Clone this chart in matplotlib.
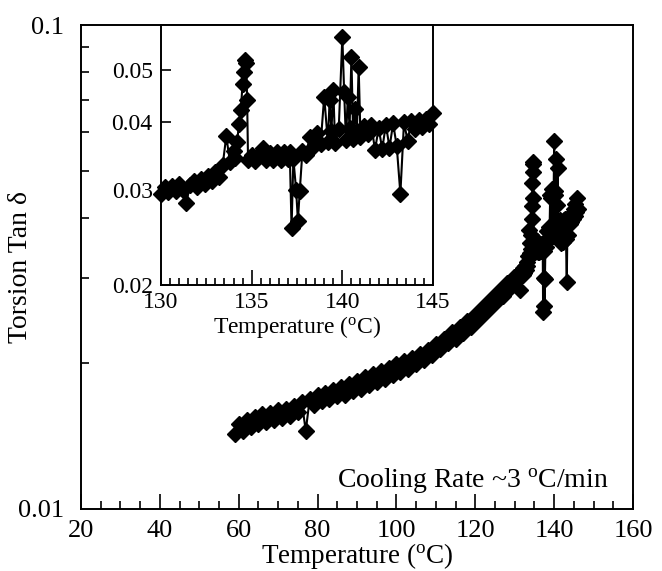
import numpy as np
import matplotlib
matplotlib.use("Agg")
import matplotlib.pyplot as plt
from matplotlib.ticker import MultipleLocator, FixedLocator, FixedFormatter, NullFormatter, LogLocator, NullLocator

plt.rcParams['font.family'] = ['Liberation Serif', 'DejaVu Serif']
plt.rcParams['mathtext.fontset'] = 'custom'
plt.rcParams['mathtext.rm'] = 'Liberation Serif'

# 59-129 C, read every 1 C off the main panel (band edges alternated)
temp_low = list(range(59, 130))
tand_low = [0.0143, 0.0150, 0.0145, 0.0153, 0.0148, 0.0155, 0.0150, 0.0157, 0.0151, 0.0158,
            0.0153, 0.0160, 0.0154, 0.0161, 0.0156, 0.0163, 0.0159, 0.0166, 0.0145, 0.0169,
            0.0164, 0.0172, 0.0167, 0.0174, 0.0169, 0.0176, 0.0171, 0.0179, 0.0172, 0.0181,
            0.0175, 0.0184, 0.0177, 0.0187, 0.0180, 0.0190, 0.0183, 0.0193, 0.0186, 0.0196,
            0.0189, 0.0199, 0.0192, 0.0202, 0.0195, 0.0205, 0.0199, 0.0209, 0.0203, 0.0213,
            0.0208, 0.0219, 0.0214, 0.0225, 0.0220, 0.0232, 0.0225, 0.0238, 0.0231, 0.0245,
            0.0238, 0.0252, 0.0247, 0.0261, 0.0256, 0.0271, 0.0266, 0.0282, 0.0275, 0.0293,
            0.0287]

# 129.6-146 C
temp_high = [129.6, 129.8, 130.0, 130.2, 130.4, 130.6, 130.8, 131.0, 131.2, 131.4,
             131.6, 131.8, 132.0, 132.2, 132.4, 132.6, 132.8, 133.0, 133.2, 133.4,
             133.6, 133.8, 134.0, 134.1, 134.2, 134.3, 134.4, 134.5, 134.6, 134.65,
             134.7, 134.75, 134.8, 135.0, 135.2, 135.4, 135.6, 135.8, 136.0, 136.2,
             136.4, 136.6, 136.8, 137.0, 137.1, 137.2, 137.3, 137.45, 137.55, 137.65,
             137.8, 138.0, 138.2, 138.4, 138.6, 138.8, 139.0, 139.2, 139.3, 139.4,
             139.5, 139.6, 139.8, 140.0, 140.1, 140.2, 140.3, 140.4, 140.5, 140.6,
             140.7, 140.8, 140.9, 141.0, 141.2, 141.4, 141.6, 141.8, 142.0, 142.2,
             142.4, 142.6, 142.8, 143.0, 143.2, 143.4, 143.6, 143.8, 144.0, 144.2,
             144.4, 144.6, 144.8, 145.0, 145.2, 145.4, 145.6, 145.8, 146.0]
tand_high = [0.0293, 0.0301, 0.0295, 0.0303, 0.0297, 0.0305, 0.0299, 0.0307, 0.0300, 0.0284,
             0.0306, 0.0311, 0.0304, 0.0314, 0.0308, 0.0318, 0.0312, 0.0324, 0.0317, 0.0333,
             0.0377, 0.0338, 0.0354, 0.0344, 0.0368, 0.0397, 0.0422, 0.0471, 0.0496, 0.0522,
             0.0515, 0.0440, 0.0340, 0.0348, 0.0339, 0.0350, 0.0358, 0.0340, 0.0351, 0.0340,
             0.0352, 0.0341, 0.0353, 0.0342, 0.0352, 0.0255, 0.0342, 0.0300, 0.0263, 0.0298,
             0.0354, 0.0348, 0.0376, 0.0360, 0.0382, 0.0364, 0.0446, 0.0368, 0.0440, 0.0386,
             0.0459, 0.0366, 0.0388, 0.0575, 0.0455, 0.0370, 0.0446, 0.0391, 0.0528, 0.0372,
             0.0424, 0.0383, 0.0506, 0.0375, 0.0393, 0.0380, 0.0396, 0.0355, 0.0390, 0.0357,
             0.0396, 0.0359, 0.0398, 0.0361, 0.0295, 0.0400, 0.0369, 0.0402, 0.0388, 0.0404,
             0.0392, 0.0406, 0.0397, 0.0416, 0.0403, 0.0426, 0.0411, 0.0440, 0.0416]

temp = np.array(temp_low + temp_high, dtype=float)
tand = np.array(tand_low + tand_high)

x_ticks = [20, 40, 60, 80, 100, 120, 140, 160]
inset_x_ticks = [130, 135, 140, 145]
inset_y_ticks = [0.02, 0.03, 0.04, 0.05]
inset_y_labels = ['0.02', '0.03', '0.04', '0.05']

fig = plt.figure(figsize=(6.62, 5.71), dpi=100)
ax = fig.add_axes([0.1224, 0.1086, 0.8338, 0.8476])
ax.plot(temp, tand, '-D', color='black', ms=8.5, lw=1.5)
ax.set_yscale('log')
ax.set_xlim(20, 160)
ax.set_ylim(0.01, 0.1)
ax.xaxis.set_major_locator(FixedLocator(x_ticks))
ax.xaxis.set_minor_locator(MultipleLocator(5))
ax.yaxis.set_major_locator(FixedLocator([0.01, 0.1]))
ax.yaxis.set_major_formatter(FixedFormatter(['0.01', '0.1']))
ax.yaxis.set_minor_locator(LogLocator(base=10, subs=np.arange(2, 10)))
ax.yaxis.set_minor_formatter(NullFormatter())
ax.tick_params(which='both', direction='in', top=False, right=False, width=1.2, labelsize=19)
ax.tick_params(axis='x', which='major', length=11, pad=8)
ax.tick_params(axis='x', which='minor', length=5.5)
ax.tick_params(axis='y', which='major', length=0, pad=12)
ax.tick_params(axis='y', which='minor', length=6)
for s in ax.spines.values():
    s.set_linewidth(1.4)
ax.set_xlabel('Temperature ($\\mathregular{^o}$C)', fontsize=19.5, labelpad=-1)
ax.set_ylabel('Torsion Tan δ', fontsize=20)
ax.yaxis.set_label_coords(-0.087, 0.5)
ax.text(0.955, 0.045, 'Cooling Rate ~3 $\\mathregular{^o}$C/min', transform=ax.transAxes,
        ha='right', va='baseline', fontsize=20)

# inset
ins = fig.add_axes([0.2432, 0.5009, 0.4109, 0.4553], zorder=5)
ins.set_facecolor('white')
sel = (temp >= 130) & (temp <= 145)
ins.plot(temp[sel], tand[sel], '-D', color='black', ms=8, lw=1.5, clip_on=False)
ins.set_yscale('log')
ins.set_xlim(130, 145)
ins.set_ylim(0.02, 0.0605)
ins.xaxis.set_major_locator(FixedLocator(inset_x_ticks))
ins.xaxis.set_minor_locator(MultipleLocator(0.5))
ins.yaxis.set_major_locator(FixedLocator(inset_y_ticks))
ins.yaxis.set_major_formatter(FixedFormatter(inset_y_labels))
ins.yaxis.set_minor_locator(NullLocator())
ins.tick_params(which='both', direction='in', top=False, right=False, width=1.2, labelsize=17)
ins.tick_params(axis='x', which='major', length=11, pad=5)
ins.tick_params(axis='x', which='minor', length=5)
ins.tick_params(axis='y', which='major', length=7, pad=6)
for s in ins.spines.values():
    s.set_linewidth(1.4)
ins.set_xlabel('Temperature ($\\mathregular{^o}$C)', fontsize=17, labelpad=1)

fig.savefig('out.png', dpi=100)
